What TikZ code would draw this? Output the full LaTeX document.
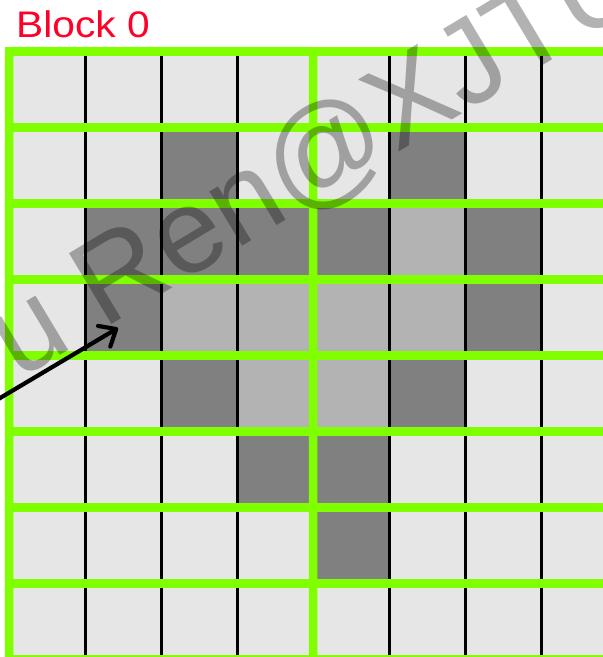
\documentclass[tikz,border=0pt]{standalone}
\usepackage{fontspec}
\setmainfont{Liberation Sans}
\usetikzlibrary{arrows.meta}
\definecolor{cellL}{HTML}{E6E6E6}
\definecolor{cellM}{HTML}{B3B3B3}
\definecolor{cellD}{HTML}{808080}
\definecolor{gridG}{HTML}{80FF00}
\definecolor{blockR}{RGB}{255,0,40}
\begin{document}
\begin{tikzpicture}[x=1pt,y=-1pt,
  greenline/.style={draw=gridG,line width=8.5pt},
  blackline/.style={draw=black,line width=3pt},
  darkcell/.style={fill=cellD},
  midcell/.style={fill=cellM},
  wmark/.style={rotate=31,anchor=base west,inner sep=0pt,text=black,text opacity=0.3,font=\fontsize{120}{120}\selectfont},
  title/.style={anchor=base west,inner sep=0pt,text=blockR,font=\fontsize{37}{40}\selectfont,xscale=1.1},
  pointer/.style={draw=black,line width=4.2pt,-{Straight Barb[length=14pt,width=24pt,line cap=round,line join=round]}}
]
\useasboundingbox (0,0) rectangle (603,657);
\fill[white] (0,0) rectangle (603,657);
\clip (0,0) rectangle (603,657);
% cells
\fill[cellL] (9,51.5) rectangle (640,700);
\foreach \r/\c in {1/2,1/5,2/1,2/2,2/3,2/4,2/6,3/1,3/6,4/2,4/5,5/3,5/4,6/4}
  \fill[darkcell] ({9+76*\c},{51.5+76*\r}) rectangle ({85+76*\c},{127.5+76*\r});
\foreach \r/\c in {2/5,3/2,3/3,3/4,3/5,4/3,4/4}
  \fill[midcell] ({9+76*\c},{51.5+76*\r}) rectangle ({85+76*\c},{127.5+76*\r});
% black column lines
\foreach \c in {1,2,3,5,6,7,8}
  \draw[blackline] ({9+76*\c},51.5) -- ({9+76*\c},700);
% green row lines
\foreach \r in {0,...,8}
  \draw[greenline] (5,{51.5+76*\r}) -- (640,{51.5+76*\r});
% block box
\draw[greenline,rounded corners=4pt] (9,700) -- (9,51) -- (313,51) -- (313,700);
% title
\node[title] (blk) at (16,37) {Block 0};
% watermark
\node[wmark] (wm) at (18,381) {u Ren@XJTU};
% arrow
\coordinate (a0) at (-10,404);
\coordinate (a1) at (118,328);
\draw[pointer] (a0) -- (a1);
\end{tikzpicture}
\end{document}
